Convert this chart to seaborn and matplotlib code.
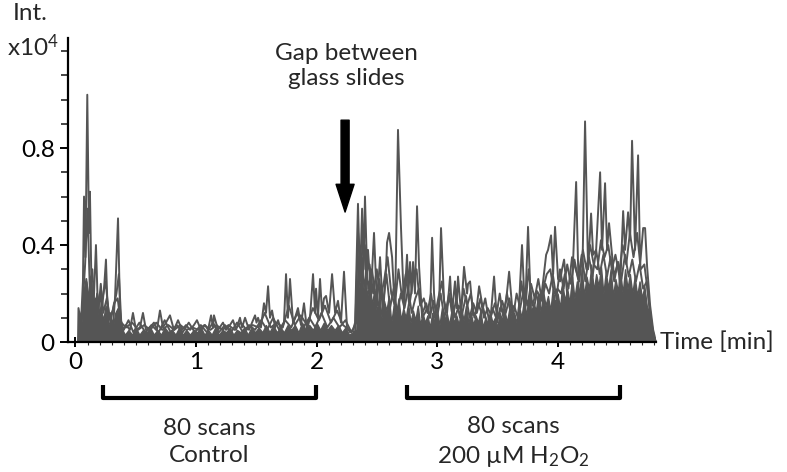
import matplotlib
matplotlib.use('Agg')
import matplotlib.pyplot as plt
import matplotlib.transforms as mtransforms
import numpy as np
import pandas as pd
import seaborn as sns

# upper envelope of the overlaid traces (time in min, intensity in x10^4)
peak_time = [0.021, 0.025, 0.046, 0.062, 0.071, 0.083, 0.098, 0.112, 0.120, 0.137,
             0.154, 0.170, 0.187, 0.203, 0.220, 0.237, 0.253, 0.270, 0.286, 0.311,
             0.328, 0.353, 0.369, 0.386, 0.419, 0.452, 0.477, 0.502, 0.535, 0.560,
             0.585, 0.618, 0.651, 0.676, 0.701, 0.726, 0.751, 0.784, 0.817, 0.851,
             0.884, 0.917, 0.951, 0.983, 1.008, 1.041, 1.075, 1.100, 1.125, 1.141,
             1.149, 1.183, 1.224, 1.249, 1.282, 1.307, 1.332, 1.365, 1.382, 1.407,
             1.440, 1.465, 1.490, 1.502, 1.515, 1.539, 1.564, 1.581, 1.598, 1.614,
             1.631, 1.656, 1.681, 1.705, 1.730, 1.747, 1.763, 1.780, 1.805, 1.822,
             1.846, 1.871, 1.896, 1.921, 1.946, 1.971, 1.988, 1.996, 2.012, 2.029,
             2.046, 2.062, 2.079, 2.104, 2.129, 2.154, 2.178, 2.203, 2.228, 2.253,
             2.278, 2.303, 2.320, 2.344, 2.361, 2.378, 2.390, 2.402, 2.419, 2.427,
             2.452, 2.477, 2.502, 2.527, 2.552, 2.577, 2.585, 2.602, 2.627, 2.651,
             2.676, 2.701, 2.726, 2.751, 2.763, 2.776, 2.788, 2.801, 2.817, 2.834,
             2.851, 2.876, 2.900, 2.917, 2.942, 2.959, 2.975, 2.992, 3.017, 3.033,
             3.058, 3.083, 3.108, 3.124, 3.149, 3.162, 3.174, 3.199, 3.224, 3.249,
             3.257, 3.274, 3.299, 3.324, 3.349, 3.373, 3.398, 3.423, 3.448, 3.473,
             3.498, 3.523, 3.548, 3.573, 3.598, 3.622, 3.647, 3.672, 3.705, 3.730,
             3.755, 3.780, 3.805, 3.830, 3.863, 3.880, 3.905, 3.921, 3.946, 3.963,
             3.979, 4.004, 4.021, 4.037, 4.054, 4.079, 4.104, 4.120, 4.154, 4.178,
             4.203, 4.228, 4.253, 4.278, 4.295, 4.320, 4.353, 4.369, 4.394, 4.411,
             4.427, 4.444, 4.469, 4.502, 4.519, 4.544, 4.560, 4.585, 4.602, 4.618,
             4.643, 4.668, 4.685, 4.710, 4.726, 4.743, 4.768, 4.793, 4.817]
peak_int = [0.00, 0.14, 0.08, 0.25, 0.60, 0.35, 1.02, 0.45, 0.62, 0.10,
            0.20, 0.40, 0.12, 0.20, 0.14, 0.22, 0.34, 0.08, 0.12, 0.06,
            0.18, 0.51, 0.14, 0.04, 0.07, 0.05, 0.12, 0.05, 0.06, 0.12,
            0.05, 0.06, 0.08, 0.05, 0.13, 0.06, 0.08, 0.11, 0.05, 0.09,
            0.05, 0.07, 0.05, 0.07, 0.09, 0.05, 0.07, 0.05, 0.11, 0.06,
            0.11, 0.05, 0.08, 0.05, 0.07, 0.09, 0.05, 0.10, 0.06, 0.10,
            0.05, 0.08, 0.11, 0.08, 0.10, 0.06, 0.16, 0.12, 0.23, 0.10,
            0.13, 0.06, 0.09, 0.05, 0.08, 0.28, 0.10, 0.26, 0.08, 0.10,
            0.14, 0.07, 0.16, 0.05, 0.10, 0.28, 0.12, 0.22, 0.10, 0.26,
            0.12, 0.18, 0.19, 0.12, 0.28, 0.12, 0.17, 0.08, 0.29, 0.06,
            0.04, 0.05, 0.08, 0.57, 0.25, 0.55, 0.30, 0.60, 0.30, 0.38,
            0.20, 0.45, 0.15, 0.35, 0.12, 0.30, 0.41, 0.45, 0.35, 0.12,
            0.875, 0.47, 0.14, 0.36, 0.20, 0.33, 0.20, 0.33, 0.20, 0.56,
            0.31, 0.10, 0.12, 0.14, 0.10, 0.43, 0.20, 0.08, 0.15, 0.47,
            0.17, 0.12, 0.27, 0.12, 0.25, 0.14, 0.27, 0.12, 0.31, 0.20,
            0.24, 0.25, 0.11, 0.12, 0.23, 0.16, 0.11, 0.07, 0.12, 0.27,
            0.08, 0.14, 0.12, 0.17, 0.29, 0.15, 0.07, 0.07, 0.40, 0.12,
            0.475, 0.12, 0.14, 0.21, 0.18, 0.25, 0.36, 0.38, 0.44, 0.28,
            0.475, 0.26, 0.25, 0.30, 0.34, 0.20, 0.13, 0.22, 0.66, 0.15,
            0.20, 0.91, 0.30, 0.53, 0.36, 0.38, 0.70, 0.38, 0.655, 0.38,
            0.49, 0.40, 0.27, 0.33, 0.22, 0.54, 0.38, 0.535, 0.42, 0.83,
            0.38, 0.77, 0.32, 0.47, 0.47, 0.31, 0.15, 0.05, 0.00]

# a second trace running through the middle of the bundle
mid_time = [0.03, 0.06, 0.08, 0.10, 0.12, 0.14, 0.16, 0.18, 0.20, 0.22,
            0.25, 0.28, 0.31, 0.34, 0.36, 0.38, 0.42, 0.47, 0.52, 0.57,
            0.62, 0.67, 0.72, 0.77, 0.82, 0.87, 0.92, 0.97, 1.02, 1.07,
            1.12, 1.17, 1.22, 1.27, 1.32, 1.37, 1.42, 1.47, 1.52, 1.57,
            1.62, 1.67, 1.72, 1.77, 1.82, 1.87, 1.92, 1.97, 2.02, 2.07,
            2.12, 2.17, 2.22, 2.27, 2.32, 2.345, 2.37, 2.39, 2.41, 2.44,
            2.47, 2.50, 2.53, 2.56, 2.59, 2.62, 2.65, 2.68, 2.71, 2.74,
            2.77, 2.80, 2.83, 2.86, 2.89, 2.92, 2.95, 2.98, 3.01, 3.04,
            3.07, 3.10, 3.13, 3.16, 3.19, 3.22, 3.25, 3.28, 3.31, 3.34,
            3.37, 3.40, 3.43, 3.46, 3.49, 3.52, 3.55, 3.58, 3.61, 3.64,
            3.67, 3.70, 3.73, 3.76, 3.79, 3.82, 3.85, 3.88, 3.91, 3.94,
            3.97, 4.00, 4.03, 4.06, 4.09, 4.12, 4.15, 4.18, 4.21, 4.24,
            4.27, 4.30, 4.33, 4.36, 4.39, 4.42, 4.45, 4.48, 4.51, 4.54,
            4.57, 4.60, 4.63, 4.66, 4.69, 4.72, 4.75, 4.78, 4.80]
mid_int = [0.05, 0.15, 0.32, 0.55, 0.20, 0.30, 0.12, 0.20, 0.10, 0.17,
           0.25, 0.10, 0.13, 0.20, 0.28, 0.08, 0.06, 0.08, 0.05, 0.07,
           0.05, 0.08, 0.05, 0.07, 0.05, 0.07, 0.05, 0.06, 0.05, 0.07,
           0.05, 0.07, 0.05, 0.07, 0.05, 0.08, 0.05, 0.07, 0.06, 0.12,
           0.06, 0.08, 0.06, 0.15, 0.07, 0.11, 0.07, 0.14, 0.09, 0.15,
           0.08, 0.13, 0.07, 0.05, 0.04, 0.45, 0.30, 0.48, 0.28, 0.32,
           0.20, 0.30, 0.18, 0.25, 0.35, 0.20, 0.15, 0.30, 0.18, 0.28,
           0.15, 0.25, 0.30, 0.15, 0.18, 0.12, 0.20, 0.10, 0.18, 0.25,
           0.12, 0.20, 0.10, 0.18, 0.10, 0.22, 0.15, 0.20, 0.10, 0.16,
           0.12, 0.18, 0.09, 0.14, 0.10, 0.20, 0.10, 0.20, 0.12, 0.15,
           0.10, 0.25, 0.13, 0.30, 0.15, 0.20, 0.15, 0.22, 0.28, 0.30,
           0.20, 0.22, 0.20, 0.28, 0.22, 0.35, 0.30, 0.25, 0.38, 0.30,
           0.40, 0.32, 0.30, 0.42, 0.35, 0.40, 0.30, 0.36, 0.28, 0.40,
           0.32, 0.45, 0.35, 0.45, 0.30, 0.32, 0.20, 0.08, 0.02]

# a third, lower trace
low_time = [0.05, 0.07, 0.09, 0.11, 0.13, 0.15, 0.17, 0.19, 0.21, 0.23,
            0.26, 0.29, 0.32, 0.35, 0.37, 0.40, 0.44, 0.48, 0.53, 0.58,
            0.63, 0.69, 0.74, 0.79, 0.84, 0.89, 0.94, 0.99, 1.04, 1.09,
            1.14, 1.19, 1.24, 1.29, 1.34, 1.39, 1.44, 1.49, 1.54, 1.59,
            1.64, 1.69, 1.74, 1.79, 1.84, 1.89, 1.94, 1.99, 2.04, 2.09,
            2.14, 2.19, 2.24, 2.29, 2.33, 2.355, 2.38, 2.40, 2.43, 2.46,
            2.49, 2.52, 2.55, 2.58, 2.61, 2.64, 2.67, 2.70, 2.73, 2.76,
            2.79, 2.82, 2.85, 2.88, 2.91, 2.94, 2.97, 3.00, 3.03, 3.06,
            3.09, 3.12, 3.15, 3.18, 3.21, 3.24, 3.27, 3.30, 3.33, 3.36,
            3.39, 3.42, 3.45, 3.48, 3.51, 3.54, 3.57, 3.60, 3.63, 3.66,
            3.69, 3.72, 3.75, 3.78, 3.81, 3.84, 3.87, 3.90, 3.93, 3.96,
            3.99, 4.02, 4.05, 4.08, 4.11, 4.14, 4.17, 4.20, 4.23, 4.26,
            4.29, 4.32, 4.35, 4.38, 4.41, 4.44, 4.47, 4.50, 4.53, 4.56,
            4.59, 4.62, 4.65, 4.68, 4.71, 4.74, 4.77, 4.80]
low_int = [0.10, 0.18, 0.26, 0.15, 0.27, 0.10, 0.18, 0.13, 0.24, 0.12,
           0.18, 0.08, 0.16, 0.18, 0.10, 0.05, 0.09, 0.04, 0.08, 0.04,
           0.07, 0.04, 0.09, 0.04, 0.07, 0.04, 0.08, 0.04, 0.07, 0.04,
           0.08, 0.04, 0.07, 0.04, 0.08, 0.04, 0.07, 0.05, 0.09, 0.05,
           0.10, 0.05, 0.09, 0.06, 0.12, 0.06, 0.10, 0.06, 0.12, 0.06,
           0.10, 0.06, 0.09, 0.04, 0.08, 0.38, 0.25, 0.40, 0.22, 0.30,
           0.18, 0.26, 0.15, 0.28, 0.14, 0.22, 0.12, 0.20, 0.14, 0.22,
           0.12, 0.18, 0.22, 0.12, 0.16, 0.10, 0.17, 0.12, 0.20, 0.10,
           0.16, 0.18, 0.10, 0.15, 0.12, 0.19, 0.10, 0.16, 0.12, 0.18,
           0.10, 0.14, 0.11, 0.16, 0.10, 0.17, 0.12, 0.18, 0.10, 0.20,
           0.14, 0.22, 0.15, 0.24, 0.18, 0.26, 0.17, 0.24, 0.20, 0.28,
           0.18, 0.30, 0.22, 0.32, 0.24, 0.34, 0.26, 0.36, 0.25, 0.35,
           0.27, 0.38, 0.28, 0.36, 0.27, 0.35, 0.25, 0.33, 0.26, 0.36,
           0.27, 0.34, 0.25, 0.32, 0.22, 0.25, 0.10, 0.01]

# top edge of the solid, fully overlapped part of the bundle
band_time = [0.02, 0.03, 0.05, 0.07, 0.09, 0.11, 0.13, 0.15, 0.17, 0.19,
             0.21, 0.23, 0.25, 0.27, 0.29, 0.31, 0.33, 0.35, 0.38, 0.41,
             0.44, 0.47, 0.50, 0.53, 0.56, 0.59, 0.62, 0.65, 0.68, 0.71,
             0.74, 0.77, 0.80, 0.83, 0.86, 0.89, 0.92, 0.95, 0.98, 1.01,
             1.04, 1.07, 1.10, 1.13, 1.16, 1.19, 1.22, 1.25, 1.28, 1.31,
             1.34, 1.37, 1.40, 1.43, 1.46, 1.49, 1.52, 1.55, 1.58, 1.61,
             1.64, 1.67, 1.70, 1.73, 1.76, 1.79, 1.82, 1.85, 1.88, 1.91,
             1.94, 1.97, 2.00, 2.03, 2.06, 2.09, 2.12, 2.15, 2.18, 2.21,
             2.24, 2.27, 2.30, 2.33, 2.345, 2.36, 2.375, 2.39, 2.405, 2.42,
             2.44, 2.46, 2.48, 2.50, 2.52, 2.54, 2.56, 2.58, 2.60, 2.62,
             2.64, 2.66, 2.68, 2.70, 2.72, 2.74, 2.76, 2.78, 2.80, 2.82,
             2.84, 2.86, 2.88, 2.90, 2.92, 2.94, 2.96, 2.98, 3.00, 3.02,
             3.04, 3.06, 3.08, 3.10, 3.12, 3.14, 3.16, 3.18, 3.20, 3.22,
             3.24, 3.26, 3.28, 3.30, 3.32, 3.34, 3.36, 3.38, 3.40, 3.42,
             3.44, 3.46, 3.48, 3.50, 3.52, 3.54, 3.56, 3.58, 3.60, 3.62,
             3.64, 3.66, 3.68, 3.70, 3.72, 3.74, 3.76, 3.78, 3.80, 3.82,
             3.84, 3.86, 3.88, 3.90, 3.92, 3.94, 3.96, 3.98, 4.00, 4.02,
             4.04, 4.06, 4.08, 4.10, 4.12, 4.14, 4.16, 4.18, 4.20, 4.22,
             4.24, 4.26, 4.28, 4.30, 4.32, 4.34, 4.36, 4.38, 4.40, 4.42,
             4.44, 4.46, 4.48, 4.50, 4.52, 4.54, 4.56, 4.58, 4.60, 4.62,
             4.64, 4.66, 4.68, 4.70, 4.72, 4.74, 4.76, 4.78, 4.80, 4.82]
band_int = [0.00, 0.12, 0.08, 0.22, 0.25, 0.18, 0.24, 0.12, 0.16, 0.10,
            0.14, 0.09, 0.15, 0.07, 0.09, 0.06, 0.12, 0.14, 0.06, 0.03,
            0.05, 0.03, 0.06, 0.03, 0.05, 0.04, 0.06, 0.03, 0.05, 0.03,
            0.06, 0.04, 0.05, 0.03, 0.06, 0.03, 0.05, 0.03, 0.05, 0.04,
            0.06, 0.03, 0.05, 0.03, 0.06, 0.03, 0.05, 0.04, 0.06, 0.03,
            0.05, 0.04, 0.06, 0.03, 0.06, 0.04, 0.06, 0.04, 0.07, 0.04,
            0.07, 0.04, 0.06, 0.04, 0.07, 0.05, 0.07, 0.04, 0.08, 0.05,
            0.07, 0.05, 0.08, 0.05, 0.08, 0.05, 0.07, 0.05, 0.07, 0.04,
            0.06, 0.03, 0.04, 0.05, 0.30, 0.20, 0.35, 0.22, 0.30, 0.18,
            0.26, 0.15, 0.22, 0.12, 0.20, 0.10, 0.17, 0.13, 0.19, 0.08,
            0.15, 0.11, 0.18, 0.09, 0.14, 0.10, 0.16, 0.08, 0.13, 0.09,
            0.15, 0.07, 0.12, 0.08, 0.11, 0.06, 0.12, 0.08, 0.13, 0.07,
            0.14, 0.09, 0.12, 0.07, 0.13, 0.08, 0.11, 0.07, 0.14, 0.09,
            0.15, 0.08, 0.12, 0.07, 0.11, 0.08, 0.13, 0.06, 0.10, 0.07,
            0.12, 0.08, 0.10, 0.06, 0.12, 0.09, 0.13, 0.08, 0.14, 0.10,
            0.12, 0.08, 0.15, 0.10, 0.17, 0.11, 0.19, 0.12, 0.16, 0.13,
            0.20, 0.12, 0.21, 0.15, 0.19, 0.13, 0.22, 0.16, 0.20, 0.14,
            0.24, 0.17, 0.22, 0.16, 0.27, 0.18, 0.25, 0.20, 0.30, 0.19,
            0.27, 0.22, 0.32, 0.21, 0.28, 0.23, 0.31, 0.20, 0.29, 0.22,
            0.30, 0.19, 0.26, 0.21, 0.29, 0.20, 0.30, 0.22, 0.28, 0.20,
            0.27, 0.19, 0.25, 0.18, 0.23, 0.15, 0.12, 0.06, 0.02, 0.00]

# brackets below the axis (start, end in min) and their captions
bracket_spans = [(0.228, 1.996), (2.751, 4.519)]
bracket_labels = ['80 scans\nControl', '80 scans\n200 µM H$_2$O$_2$']

sns.set_style('ticks')
plt.rcParams['font.family'] = ['Lato', 'DejaVu Sans']
plt.rcParams['mathtext.default'] = 'regular'

trace_color = '#555555'
fs = 17.5

fig = plt.figure(figsize=(7.87, 4.72), dpi=100)
ax = fig.add_axes([0.0864, 0.2754, 0.7472, 0.6441])

ax.fill_between(band_time, band_int, color=trace_color, lw=1.0)
for t, v in [(low_time, low_int), (mid_time, mid_int), (peak_time, peak_int)]:
    df = pd.DataFrame({'time': t, 'int': v})
    sns.lineplot(data=df, x='time', y='int', sort=False, estimator=None,
                 color=trace_color, lw=1.4, ax=ax)

ax.set_xlim(-0.062, 4.817)
ax.set_ylim(0, 1.254)
ax.set_xlabel('')
ax.set_ylabel('')
ax.set_xticks([0, 1, 2, 3, 4])
ax.set_xticks(np.arange(0, 4.81, 0.1), minor=True)
ax.set_yticks([0, 0.4, 0.8])
ax.set_yticklabels(['0', '0.4', '0.8'])
ax.set_yticks(np.arange(0, 1.21, 0.1), minor=True)
ax.tick_params(axis='both', which='major', labelsize=fs, width=1.4, length=6,
               color='black', labelcolor='black')
ax.tick_params(axis='x', which='major', direction='inout', length=7, pad=4)
ax.tick_params(axis='y', which='minor', width=1.2, length=5)
ax.tick_params(axis='x', which='minor', direction='inout', width=0.8, length=4)
for side in ['top', 'right']:
    ax.spines[side].set_visible(False)
for side in ['left', 'bottom']:
    ax.spines[side].set_linewidth(1.6)
    ax.spines[side].set_color('black')

fig.text(0.038, 0.972, 'Int.', fontsize=fs, ha='center', va='center')
fig.text(0.042, 0.902, 'x10$^4$', fontsize=fs, ha='center', va='center')
fig.text(0.839, 0.275, 'Time [min]', fontsize=fs, ha='left', va='center')

ax.text(2.25, 1.14, 'Gap between\nglass slides', fontsize=fs, ha='center',
        va='center', linespacing=1.25)
ax.annotate('', xy=(2.237, 0.536), xytext=(2.237, 0.915),
            arrowprops=dict(width=5.8, headwidth=13, headlength=20,
                            shrink=0, color='black'))

trans = mtransforms.blended_transform_factory(ax.transData, ax.transAxes)
for (x0, x1), label in zip(bracket_spans, bracket_labels):
    ax.plot([x0, x0, x1, x1], [-0.14, -0.184, -0.184, -0.14], color='black',
            lw=3, transform=trans, clip_on=False, solid_capstyle='butt')
    ax.text((x0 + x1) / 2, -0.33, label, fontsize=fs, ha='center', va='center',
            transform=trans, linespacing=1.35)

fig.savefig('out.png', dpi=100)
